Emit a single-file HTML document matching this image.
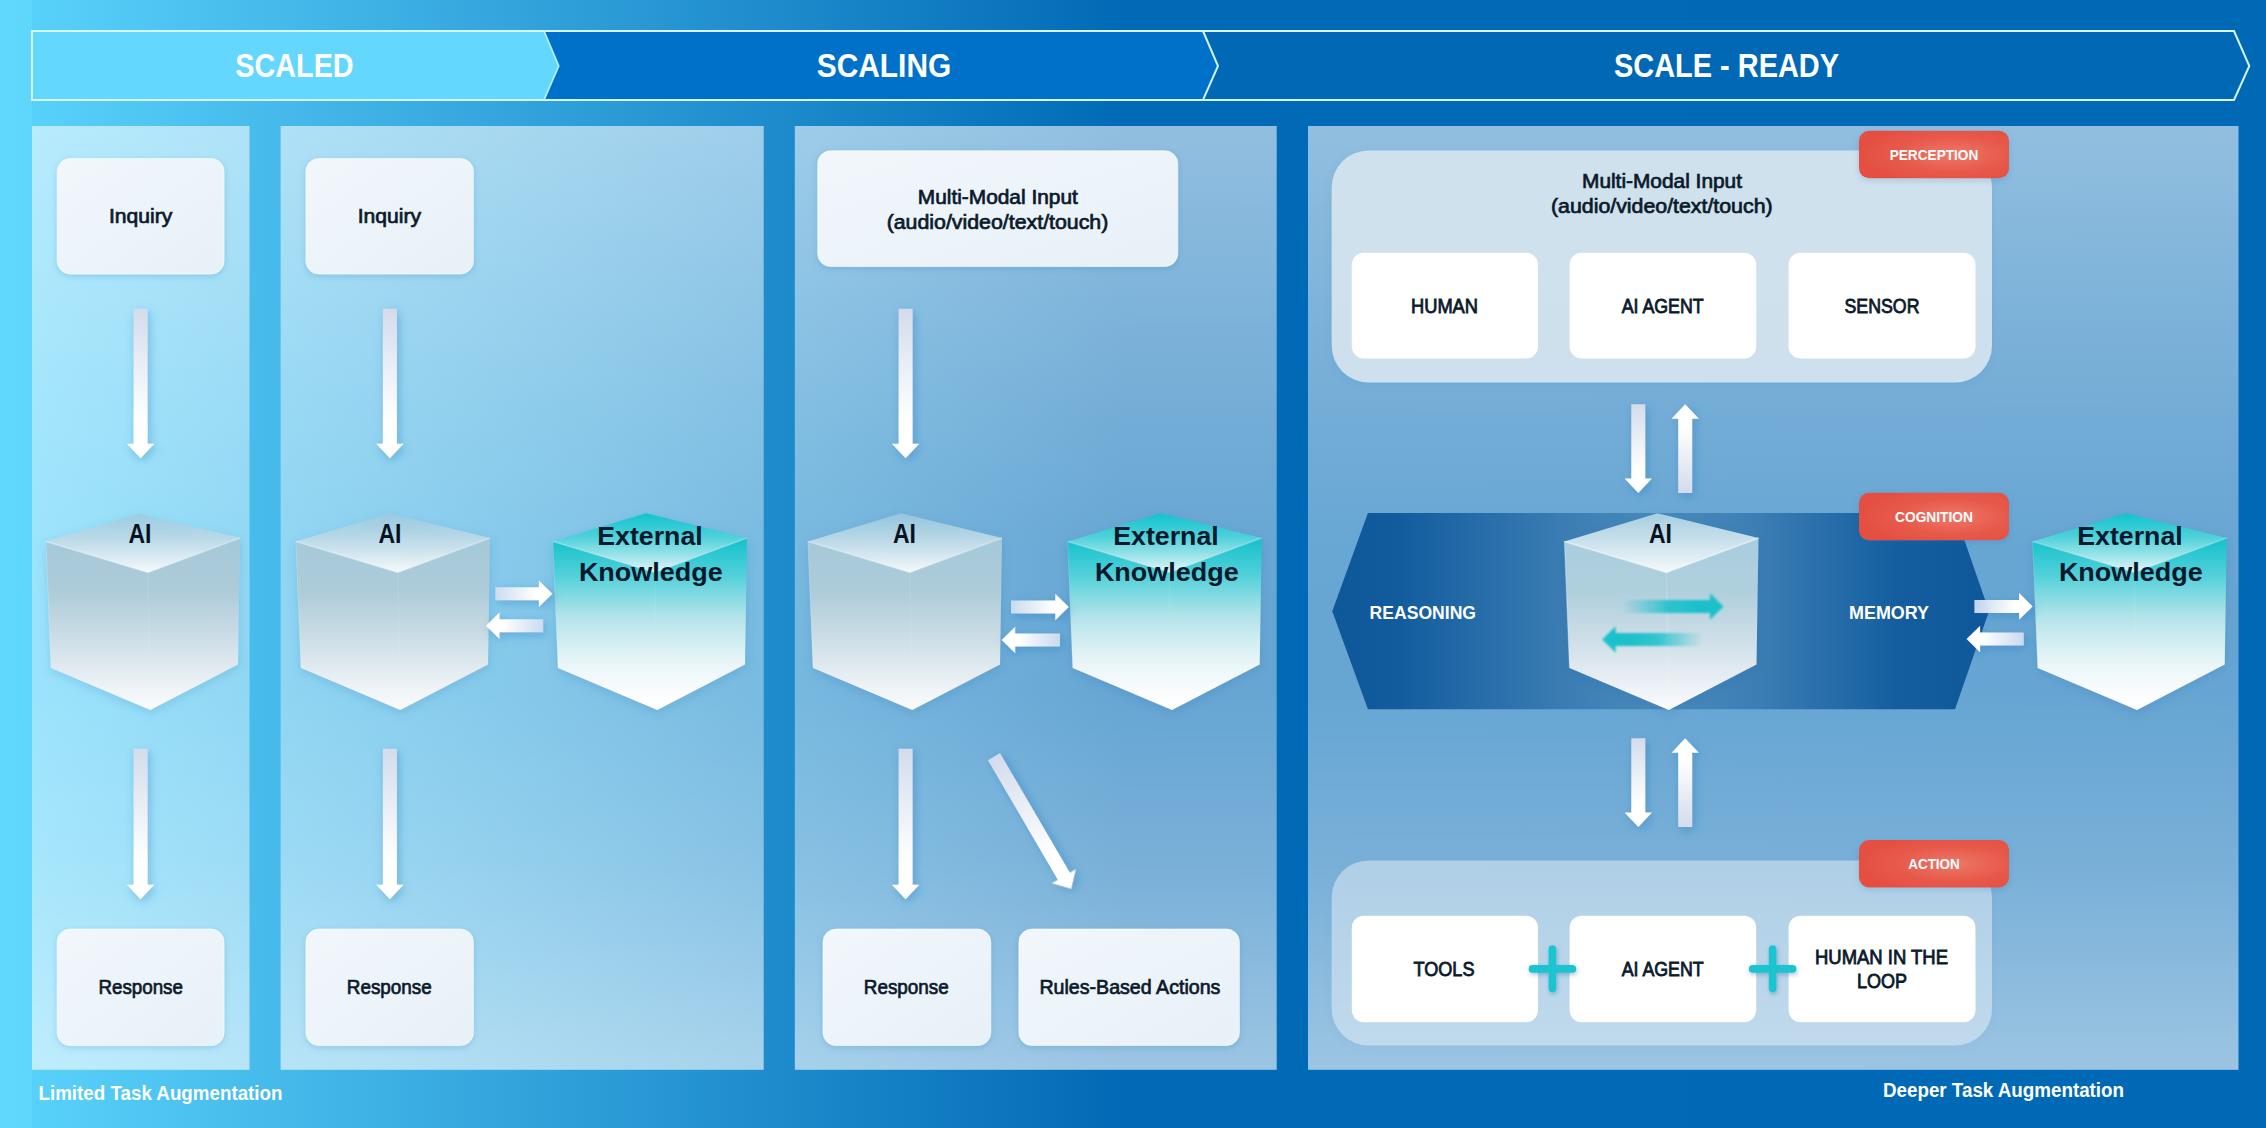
<!DOCTYPE html>
<html><head><meta charset="utf-8"><title>AI Scale Diagram</title>
<style>
html,body{margin:0;padding:0;background:#0069b5;}
body{width:2266px;height:1128px;overflow:hidden;font-family:"Liberation Sans", sans-serif;}
svg{display:block;}
text{font-family:"Liberation Sans", sans-serif;}
</style></head><body>
<svg width="2266" height="1128" viewBox="0 0 2266 1128">
<defs>
<linearGradient id="bg" x1="0" y1="0" x2="1" y2="0">
 <stop offset="0" stop-color="#60d8fe"/>
 <stop offset="0.0141" stop-color="#5fd7fd"/>
 <stop offset="0.0142" stop-color="#58d1fa"/>
 <stop offset="0.25" stop-color="#2f9fd9"/>
 <stop offset="0.495" stop-color="#016ab6"/>
 <stop offset="1" stop-color="#0069b5"/>
</linearGradient>
<linearGradient id="pan" x1="0" y1="0" x2="0" y2="1">
 <stop offset="0" stop-color="#fff" stop-opacity="0.57"/>
 <stop offset="0.29" stop-color="#fff" stop-opacity="0.455"/>
 <stop offset="0.45" stop-color="#fff" stop-opacity="0.405"/>
 <stop offset="0.60" stop-color="#fff" stop-opacity="0.40"/>
 <stop offset="0.78" stop-color="#fff" stop-opacity="0.47"/>
 <stop offset="1" stop-color="#fff" stop-opacity="0.61"/>
</linearGradient>
<linearGradient id="pan1" x1="0" y1="0" x2="1" y2="1">
 <stop offset="0" stop-color="#fff" stop-opacity="0.55"/>
 <stop offset="0.5" stop-color="#fff" stop-opacity="0.44"/>
 <stop offset="1" stop-color="#fff" stop-opacity="0.52"/>
</linearGradient>
<linearGradient id="box" x1="0" y1="0" x2="1" y2="1">
 <stop offset="0" stop-color="#f1f7fb"/>
 <stop offset="1" stop-color="#e8f0f8"/>
</linearGradient>
<linearGradient id="arrD" x1="0" y1="0" x2="0" y2="1">
 <stop offset="0" stop-color="#d3dcec"/>
 <stop offset="0.75" stop-color="#ffffff"/>
 <stop offset="1" stop-color="#ffffff"/>
</linearGradient>
<linearGradient id="arrU" x1="0" y1="1" x2="0" y2="0">
 <stop offset="0" stop-color="#d3dcec"/>
 <stop offset="0.75" stop-color="#ffffff"/>
 <stop offset="1" stop-color="#ffffff"/>
</linearGradient>
<linearGradient id="arrR" x1="0" y1="0" x2="1" y2="0">
 <stop offset="0" stop-color="#d3e0f3" stop-opacity="0.9"/>
 <stop offset="0.7" stop-color="#ffffff"/>
 <stop offset="1" stop-color="#ffffff"/>
</linearGradient>
<linearGradient id="arrL" x1="1" y1="0" x2="0" y2="0">
 <stop offset="0" stop-color="#d3e0f3" stop-opacity="0.9"/>
 <stop offset="0.7" stop-color="#ffffff"/>
 <stop offset="1" stop-color="#ffffff"/>
</linearGradient>
<linearGradient id="tealR" x1="0" y1="0" x2="1" y2="0">
 <stop offset="0" stop-color="#1bc0cb" stop-opacity="0"/>
 <stop offset="0.45" stop-color="#1bc0cb" stop-opacity="0.85"/>
 <stop offset="0.7" stop-color="#1bc0cb" stop-opacity="1"/>
 <stop offset="1" stop-color="#1bc0cb" stop-opacity="1"/>
</linearGradient>
<linearGradient id="tealL" x1="1" y1="0" x2="0" y2="0">
 <stop offset="0" stop-color="#1bc0cb" stop-opacity="0"/>
 <stop offset="0.45" stop-color="#1bc0cb" stop-opacity="0.85"/>
 <stop offset="0.7" stop-color="#1bc0cb" stop-opacity="1"/>
 <stop offset="1" stop-color="#1bc0cb" stop-opacity="1"/>
</linearGradient>
<linearGradient id="aiTop" x1="0" y1="0" x2="0" y2="1">
 <stop offset="0" stop-color="#9ccadf" stop-opacity="0.75"/>
 <stop offset="0.45" stop-color="#bcd9e6" stop-opacity="0.95"/>
 <stop offset="1" stop-color="#f4f8fb"/>
</linearGradient>
<linearGradient id="aiSide" x1="0" y1="0" x2="0" y2="1">
 <stop offset="0" stop-color="#a7cad9"/>
 <stop offset="0.28" stop-color="#afccd9"/>
 <stop offset="0.6" stop-color="#d3e1e9"/>
 <stop offset="0.88" stop-color="#f1f5f8"/>
 <stop offset="1" stop-color="#fbfcfd"/>
</linearGradient>
<linearGradient id="ai4Top" x1="0" y1="0" x2="0" y2="1">
 <stop offset="0" stop-color="#9fc9de"/>
 <stop offset="0.45" stop-color="#c4dde9"/>
 <stop offset="1" stop-color="#f4f8fb"/>
</linearGradient>
<linearGradient id="ai4Side" x1="0" y1="0" x2="0" y2="1">
 <stop offset="0" stop-color="#a9cfe2"/>
 <stop offset="0.3" stop-color="#adcede"/>
 <stop offset="0.6" stop-color="#cfdfe9"/>
 <stop offset="0.88" stop-color="#eef3f7"/>
 <stop offset="1" stop-color="#fbfcfd"/>
</linearGradient>
<linearGradient id="ekTop" x1="0" y1="0" x2="0" y2="1">
 <stop offset="0" stop-color="#12c4cf"/>
 <stop offset="0.4" stop-color="#55d3db"/>
 <stop offset="1" stop-color="#e2f5f7"/>
</linearGradient>
<linearGradient id="ekSide" x1="0" y1="0" x2="0" y2="1">
 <stop offset="0" stop-color="#18c3ce"/>
 <stop offset="0.18" stop-color="#4bcfd8"/>
 <stop offset="0.45" stop-color="#b3e4ea"/>
 <stop offset="0.7" stop-color="#e6f4f7"/>
 <stop offset="0.9" stop-color="#fbfdfe"/>
 <stop offset="1" stop-color="#ffffff"/>
</linearGradient>
<linearGradient id="hex" x1="0" y1="0" x2="1" y2="0">
 <stop offset="0" stop-color="#0e5799"/>
 <stop offset="0.10" stop-color="#125c9e"/>
 <stop offset="0.36" stop-color="#3c7eb4"/>
 <stop offset="0.5" stop-color="#4a8abc"/>
 <stop offset="0.64" stop-color="#3d7fb5"/>
 <stop offset="0.86" stop-color="#145e9f"/>
 <stop offset="1" stop-color="#0e5799"/>
</linearGradient>
<radialGradient id="badge" cx="0.62" cy="0.5" r="0.6">
 <stop offset="0" stop-color="#ee7869"/>
 <stop offset="0.6" stop-color="#e75a4b"/>
 <stop offset="1" stop-color="#e45042"/>
</radialGradient>
<filter id="shA" x="-100%" y="-20%" width="300%" height="140%">
 <feDropShadow dx="2" dy="3" stdDeviation="5" flood-color="#1f6fb8" flood-opacity="0.35"/>
</filter>
<filter id="shH" x="-20%" y="-100%" width="140%" height="300%">
 <feDropShadow dx="2" dy="3" stdDeviation="5" flood-color="#1f6fb8" flood-opacity="0.35"/>
</filter>
<filter id="shB" x="-10%" y="-10%" width="120%" height="125%">
 <feDropShadow dx="0" dy="2" stdDeviation="3" flood-color="#2a6fae" flood-opacity="0.22"/>
</filter>
<filter id="shC" x="-10%" y="-10%" width="120%" height="125%">
 <feDropShadow dx="0" dy="3" stdDeviation="5" flood-color="#1a5c9c" flood-opacity="0.18"/>
</filter>
<filter id="shD" x="-10%" y="-10%" width="120%" height="125%">
 <feDropShadow dx="0" dy="2" stdDeviation="4" flood-color="#1a5c9c" flood-opacity="0.10"/>
</filter>
<filter id="blur1" x="-20%" y="-50%" width="140%" height="200%">
 <feGaussianBlur stdDeviation="1.2"/>
</filter>
<filter id="shP" x="-30%" y="-30%" width="160%" height="160%">
 <feDropShadow dx="1" dy="2" stdDeviation="2" flood-color="#1a5c9c" flood-opacity="0.35"/>
</filter>
</defs>

<rect x="0" y="0" width="2266" height="1128" fill="url(#bg)"/>
<g>
<path d="M32,31 L544,31 L558.7,66 L544,99.9 L32,99.9 Z" fill="#63d7fd"/>
<path d="M544,31 L1203,31 L1218,66 L1203,99.9 L544,99.9 L558.7,66 Z" fill="#0071c9"/>
<path d="M1203,31 L2234,31 L2249.3,66 L2234,99.9 L1203,99.9 L1218,66 Z" fill="#0068b5"/>
<path d="M32,31 L2234,31 L2249.3,66 L2234,99.9 L32,99.9 Z" fill="none" stroke="#d6f5ff" stroke-width="2"/>
<path d="M544,31 L558.7,66 L544,99.9" fill="none" stroke="#b4efff" stroke-width="1.8"/>
<path d="M1203,31 L1218,66 L1203,99.9" fill="none" stroke="#d2f4ff" stroke-width="2"/>
</g>
<text x="294.5" y="77.4" font-size="33" font-weight="bold" fill="#fff" text-anchor="middle" textLength="118.3" lengthAdjust="spacingAndGlyphs">SCALED</text>
<text x="884" y="77.4" font-size="33" font-weight="bold" fill="#fff" text-anchor="middle" textLength="134.5" lengthAdjust="spacingAndGlyphs">SCALING</text>
<text x="1726.5" y="77.4" font-size="33" font-weight="bold" fill="#fff" text-anchor="middle" textLength="225" lengthAdjust="spacingAndGlyphs">SCALE - READY</text>
<rect x="32" y="126" width="217.5" height="943.8" fill="url(#pan)"/>
<rect x="280.6" y="126" width="483.1" height="943.8" fill="url(#pan)"/>
<rect x="794.8" y="126" width="481.9000000000001" height="943.8" fill="url(#pan)"/>
<rect x="1308" y="126" width="930.5" height="943.8" fill="url(#pan)"/>
<rect x="57.2" y="158.5" width="166.8" height="115.5" rx="13" fill="url(#box)" stroke="#ffffff" stroke-opacity="0.55" stroke-width="1" filter="url(#shB)"/>
<text x="140.6" y="223.4" font-size="20" font-weight="normal" fill="#0b1a2b" text-anchor="middle" textLength="63.3" lengthAdjust="spacingAndGlyphs" stroke="#0b1a2b" stroke-width="0.7">Inquiry</text>
<rect x="305.9" y="158.5" width="167.5" height="115.5" rx="13" fill="url(#box)" stroke="#ffffff" stroke-opacity="0.55" stroke-width="1" filter="url(#shB)"/>
<text x="389.4" y="223.4" font-size="20" font-weight="normal" fill="#0b1a2b" text-anchor="middle" textLength="63.3" lengthAdjust="spacingAndGlyphs" stroke="#0b1a2b" stroke-width="0.7">Inquiry</text>
<rect x="817.7" y="150.7" width="360.0999999999999" height="115.80000000000001" rx="13" fill="url(#box)" stroke="#ffffff" stroke-opacity="0.55" stroke-width="1" filter="url(#shB)"/>
<text x="997.8" y="203.7" font-size="20" font-weight="normal" fill="#0b1a2b" text-anchor="middle" textLength="160" lengthAdjust="spacingAndGlyphs" stroke="#0b1a2b" stroke-width="0.7">Multi-Modal Input</text>
<text x="997.5" y="228.8" font-size="20" font-weight="normal" fill="#0b1a2b" text-anchor="middle" textLength="221.7" lengthAdjust="spacingAndGlyphs" stroke="#0b1a2b" stroke-width="0.7">(audio/video/text/touch)</text>
<rect x="57.2" y="929" width="166.8" height="116.5" rx="13" fill="url(#box)" stroke="#ffffff" stroke-opacity="0.55" stroke-width="1" filter="url(#shB)"/>
<text x="140.7" y="994" font-size="20" font-weight="normal" fill="#0b1a2b" text-anchor="middle" textLength="84.5" lengthAdjust="spacingAndGlyphs" stroke="#0b1a2b" stroke-width="0.7">Response</text>
<rect x="305.9" y="929" width="167.5" height="116.5" rx="13" fill="url(#box)" stroke="#ffffff" stroke-opacity="0.55" stroke-width="1" filter="url(#shB)"/>
<text x="389.3" y="994" font-size="20" font-weight="normal" fill="#0b1a2b" text-anchor="middle" textLength="85" lengthAdjust="spacingAndGlyphs" stroke="#0b1a2b" stroke-width="0.7">Response</text>
<rect x="823" y="929" width="167.79999999999995" height="116.5" rx="13" fill="url(#box)" stroke="#ffffff" stroke-opacity="0.55" stroke-width="1" filter="url(#shB)"/>
<text x="906.3" y="994" font-size="20" font-weight="normal" fill="#0b1a2b" text-anchor="middle" textLength="85" lengthAdjust="spacingAndGlyphs" stroke="#0b1a2b" stroke-width="0.7">Response</text>
<rect x="1018.9" y="929" width="220.5000000000001" height="116.5" rx="13" fill="url(#box)" stroke="#ffffff" stroke-opacity="0.55" stroke-width="1" filter="url(#shB)"/>
<text x="1129.9" y="994" font-size="20" font-weight="normal" fill="#0b1a2b" text-anchor="middle" textLength="181" lengthAdjust="spacingAndGlyphs" stroke="#0b1a2b" stroke-width="0.7">Rules-Based Actions</text>
<path d="M133.6,308.7 L147.6,308.7 L147.6,443.8 L154.29999999999998,443.8 L140.6,458.3 L126.89999999999999,443.8 L133.6,443.8 Z" fill="url(#arrD)" filter="url(#shA)"/>
<path d="M133.6,748.7 L147.6,748.7 L147.6,884.8 L154.29999999999998,884.8 L140.6,899.3 L126.89999999999999,884.8 L133.6,884.8 Z" fill="url(#arrD)" filter="url(#shA)"/>
<path d="M382.9,308.7 L396.9,308.7 L396.9,443.8 L403.59999999999997,443.8 L389.9,458.3 L376.2,443.8 L382.9,443.8 Z" fill="url(#arrD)" filter="url(#shA)"/>
<path d="M382.9,748.7 L396.9,748.7 L396.9,884.8 L403.59999999999997,884.8 L389.9,899.3 L376.2,884.8 L382.9,884.8 Z" fill="url(#arrD)" filter="url(#shA)"/>
<path d="M898.6,308.7 L912.6,308.7 L912.6,443.8 L919.3000000000001,443.8 L905.6,458.3 L891.9,443.8 L898.6,443.8 Z" fill="url(#arrD)" filter="url(#shA)"/>
<path d="M898.6,748.7 L912.6,748.7 L912.6,884.8 L919.3000000000001,884.8 L905.6,899.3 L891.9,884.8 L898.6,884.8 Z" fill="url(#arrD)" filter="url(#shA)"/>
<g transform="translate(994,756.7) rotate(-30.3)"><path d="M-7.0,0 L7.0,0 L7.0,138.5 L13.7,138.5 L0,153 L-13.7,138.5 L-7.0,138.5 Z" fill="url(#arrD)" filter="url(#shA)"/></g>
<path d="M1631.3,404.2 L1645.3,404.2 L1645.3,478.4 L1652.0,478.4 L1638.3,492.9 L1624.6,478.4 L1631.3,478.4 Z" fill="url(#arrD)" filter="url(#shA)"/>
<path d="M1678.2,492.9 L1692.2,492.9 L1692.2,418.7 L1698.9,418.7 L1685.2,404.2 L1671.5,418.7 L1678.2,418.7 Z" fill="url(#arrU)" filter="url(#shA)"/>
<path d="M1631.3,738.2 L1645.3,738.2 L1645.3,812.4 L1652.0,812.4 L1638.3,826.9 L1624.6,812.4 L1631.3,812.4 Z" fill="url(#arrD)" filter="url(#shA)"/>
<path d="M1678.2,826.9 L1692.2,826.9 L1692.2,752.7 L1698.9,752.7 L1685.2,738.2 L1671.5,752.7 L1678.2,752.7 Z" fill="url(#arrU)" filter="url(#shA)"/>
<path d="M1332.3,611.2 L1367.9,513 L1955,513 L1989,611.2 L1955,709.2 L1367.9,709.2 Z" fill="url(#hex)"/>
<text x="1422.8" y="618.7" font-size="19" font-weight="bold" fill="#fff" text-anchor="middle" textLength="106.4" lengthAdjust="spacingAndGlyphs">REASONING</text>
<text x="1889" y="618.7" font-size="19" font-weight="bold" fill="#fff" text-anchor="middle" textLength="80" lengthAdjust="spacingAndGlyphs">MEMORY</text>
<defs>
<linearGradient id="aiTopU0" gradientUnits="userSpaceOnUse" x1="0" y1="513" x2="0" y2="573"><stop offset="0" stop-color="#9ccadf" stop-opacity="0.8"/><stop offset="0.45" stop-color="#bfdbe8" stop-opacity="0.95"/><stop offset="1" stop-color="#f6f9fb" stop-opacity="1"/></linearGradient>
<linearGradient id="ai4TopU0" gradientUnits="userSpaceOnUse" x1="0" y1="513" x2="0" y2="573"><stop offset="0" stop-color="#a6cee0" stop-opacity="1"/><stop offset="0.45" stop-color="#c8e0eb" stop-opacity="1"/><stop offset="1" stop-color="#f6f9fb" stop-opacity="1"/></linearGradient>
<linearGradient id="ekTopU0" gradientUnits="userSpaceOnUse" x1="0" y1="513" x2="0" y2="573"><stop offset="0" stop-color="#10c3ce" stop-opacity="1"/><stop offset="0.4" stop-color="#4fd1da" stop-opacity="1"/><stop offset="1" stop-color="#e4f6f8" stop-opacity="1"/></linearGradient>
<linearGradient id="aiSideU0" gradientUnits="userSpaceOnUse" x1="0" y1="540" x2="0" y2="710"><stop offset="0" stop-color="#a5c9d9" stop-opacity="1"/><stop offset="0.3" stop-color="#adcbd9" stop-opacity="1"/><stop offset="0.6" stop-color="#cfdfe7" stop-opacity="1"/><stop offset="0.88" stop-color="#eff4f7" stop-opacity="1"/><stop offset="1" stop-color="#fbfcfd" stop-opacity="1"/></linearGradient>
<linearGradient id="ai4SideU0" gradientUnits="userSpaceOnUse" x1="0" y1="540" x2="0" y2="710"><stop offset="0" stop-color="#a9cedf" stop-opacity="1"/><stop offset="0.3" stop-color="#afcfdd" stop-opacity="1"/><stop offset="0.6" stop-color="#cfdfe8" stop-opacity="1"/><stop offset="0.88" stop-color="#eef3f7" stop-opacity="1"/><stop offset="1" stop-color="#fbfcfd" stop-opacity="1"/></linearGradient>
<linearGradient id="ekSideU0" gradientUnits="userSpaceOnUse" x1="0" y1="540" x2="0" y2="710"><stop offset="0" stop-color="#16c2cd" stop-opacity="1"/><stop offset="0.2" stop-color="#4fd0d9" stop-opacity="1"/><stop offset="0.45" stop-color="#b3e4ea" stop-opacity="1"/><stop offset="0.7" stop-color="#e6f4f7" stop-opacity="1"/><stop offset="0.9" stop-color="#fbfdfe" stop-opacity="1"/><stop offset="1" stop-color="#ffffff" stop-opacity="1"/></linearGradient>
</defs>
<g filter="url(#shC)">
<polygon points="45.9,541.5 147.9,572.4 240.0,537.9 238.0,664.5 150.3,710.0 51.0,668.0" fill="url(#aiSideU0)"/>
<polygon points="139.0,513.3 240.0,537.9 147.9,572.4 45.9,541.5" fill="url(#aiTopU0)"/>
</g>
<polyline points="45.9,541.5 147.9,572.4 240.0,537.9" fill="none" stroke="#ffffff" stroke-opacity="0.35" stroke-width="1.6"/>
<line x1="147.9" y1="572.4" x2="150.3" y2="710.0" stroke="#ffffff" stroke-opacity="0.0875" stroke-width="1.5"/>
<polyline points="51.0,668.0 45.9,541.5" fill="none" stroke="#ffffff" stroke-opacity="0.175" stroke-width="1.2"/>
<g filter="url(#shC)">
<polygon points="295.9,541.5 397.9,572.4 490.0,537.9 488.0,664.5 400.3,710.0 301.0,668.0" fill="url(#aiSideU0)"/>
<polygon points="389.0,513.3 490.0,537.9 397.9,572.4 295.9,541.5" fill="url(#aiTopU0)"/>
</g>
<polyline points="295.9,541.5 397.9,572.4 490.0,537.9" fill="none" stroke="#ffffff" stroke-opacity="0.35" stroke-width="1.6"/>
<line x1="397.9" y1="572.4" x2="400.3" y2="710.0" stroke="#ffffff" stroke-opacity="0.0875" stroke-width="1.5"/>
<polyline points="301.0,668.0 295.9,541.5" fill="none" stroke="#ffffff" stroke-opacity="0.175" stroke-width="1.2"/>
<g filter="url(#shC)">
<polygon points="552.9,541.5 654.9,572.4 747.0,537.9 745.0,664.5 657.3,710.0 558.0,668.0" fill="url(#ekSideU0)"/>
<polygon points="646.0,513.3 747.0,537.9 654.9,572.4 552.9,541.5" fill="url(#ekTopU0)"/>
</g>
<polyline points="552.9,541.5 654.9,572.4 747.0,537.9" fill="none" stroke="#ffffff" stroke-opacity="0.25" stroke-width="1.6"/>
<line x1="654.9" y1="572.4" x2="657.3" y2="710.0" stroke="#ffffff" stroke-opacity="0.0625" stroke-width="1.5"/>
<polyline points="558.0,668.0 552.9,541.5" fill="none" stroke="#ffffff" stroke-opacity="0.125" stroke-width="1.2"/>
<g filter="url(#shC)">
<polygon points="807.9,541.5 909.9,572.4 1002.0,537.9 1000.0,664.5 912.3,710.0 813.0,668.0" fill="url(#aiSideU0)"/>
<polygon points="901.0,513.3 1002.0,537.9 909.9,572.4 807.9,541.5" fill="url(#aiTopU0)"/>
</g>
<polyline points="807.9,541.5 909.9,572.4 1002.0,537.9" fill="none" stroke="#ffffff" stroke-opacity="0.35" stroke-width="1.6"/>
<line x1="909.9" y1="572.4" x2="912.3" y2="710.0" stroke="#ffffff" stroke-opacity="0.0875" stroke-width="1.5"/>
<polyline points="813.0,668.0 807.9,541.5" fill="none" stroke="#ffffff" stroke-opacity="0.175" stroke-width="1.2"/>
<g filter="url(#shC)">
<polygon points="1067.6,541.5 1169.6,572.4 1261.7,537.9 1259.7,664.5 1172.0,710.0 1072.7,668.0" fill="url(#ekSideU0)"/>
<polygon points="1160.7,513.3 1261.7,537.9 1169.6,572.4 1067.6,541.5" fill="url(#ekTopU0)"/>
</g>
<polyline points="1067.6,541.5 1169.6,572.4 1261.7,537.9" fill="none" stroke="#ffffff" stroke-opacity="0.25" stroke-width="1.6"/>
<line x1="1169.6" y1="572.4" x2="1172.0" y2="710.0" stroke="#ffffff" stroke-opacity="0.0625" stroke-width="1.5"/>
<polyline points="1072.7,668.0 1067.6,541.5" fill="none" stroke="#ffffff" stroke-opacity="0.125" stroke-width="1.2"/>
<g filter="url(#shC)">
<polygon points="1564.4,541.5 1666.4,572.4 1758.5,537.9 1756.5,664.5 1668.8,710.0 1569.5,668.0" fill="url(#ai4SideU0)"/>
<polygon points="1657.5,513.3 1758.5,537.9 1666.4,572.4 1564.4,541.5" fill="url(#ai4TopU0)"/>
</g>
<polyline points="1564.4,541.5 1666.4,572.4 1758.5,537.9" fill="none" stroke="#ffffff" stroke-opacity="0.6" stroke-width="1.6"/>
<line x1="1666.4" y1="572.4" x2="1668.8" y2="710.0" stroke="#ffffff" stroke-opacity="0.15" stroke-width="1.5"/>
<polyline points="1569.5,668.0 1564.4,541.5" fill="none" stroke="#ffffff" stroke-opacity="0.3" stroke-width="1.2"/>
<g filter="url(#shC)">
<polygon points="2032.6,541.5 2134.6,572.4 2226.7,537.9 2224.7,664.5 2137.0,710.0 2037.7,668.0" fill="url(#ekSideU0)"/>
<polygon points="2125.7,513.3 2226.7,537.9 2134.6,572.4 2032.6,541.5" fill="url(#ekTopU0)"/>
</g>
<polyline points="2032.6,541.5 2134.6,572.4 2226.7,537.9" fill="none" stroke="#ffffff" stroke-opacity="0.25" stroke-width="1.6"/>
<line x1="2134.6" y1="572.4" x2="2137.0" y2="710.0" stroke="#ffffff" stroke-opacity="0.0625" stroke-width="1.5"/>
<polyline points="2037.7,668.0 2032.6,541.5" fill="none" stroke="#ffffff" stroke-opacity="0.125" stroke-width="1.2"/>
<text x="140" y="542.8" font-size="27" font-weight="bold" fill="#07121f" text-anchor="middle" textLength="23" lengthAdjust="spacingAndGlyphs">AI</text>
<text x="390" y="542.8" font-size="27" font-weight="bold" fill="#07121f" text-anchor="middle" textLength="23" lengthAdjust="spacingAndGlyphs">AI</text>
<text x="904.5" y="542.8" font-size="27" font-weight="bold" fill="#07121f" text-anchor="middle" textLength="23" lengthAdjust="spacingAndGlyphs">AI</text>
<text x="1660.5" y="542.8" font-size="27" font-weight="bold" fill="#07121f" text-anchor="middle" textLength="23" lengthAdjust="spacingAndGlyphs">AI</text>
<text x="650" y="545.3" font-size="25.5" font-weight="bold" fill="#06182c" text-anchor="middle" textLength="105.4" lengthAdjust="spacingAndGlyphs">External</text>
<text x="650.8" y="580.6" font-size="25.5" font-weight="bold" fill="#06182c" text-anchor="middle" textLength="143.8" lengthAdjust="spacingAndGlyphs">Knowledge</text>
<text x="1166" y="545.3" font-size="25.5" font-weight="bold" fill="#06182c" text-anchor="middle" textLength="105.4" lengthAdjust="spacingAndGlyphs">External</text>
<text x="1166.8" y="580.6" font-size="25.5" font-weight="bold" fill="#06182c" text-anchor="middle" textLength="143.8" lengthAdjust="spacingAndGlyphs">Knowledge</text>
<text x="2130" y="545.3" font-size="25.5" font-weight="bold" fill="#06182c" text-anchor="middle" textLength="105.4" lengthAdjust="spacingAndGlyphs">External</text>
<text x="2130.8" y="580.6" font-size="25.5" font-weight="bold" fill="#06182c" text-anchor="middle" textLength="143.8" lengthAdjust="spacingAndGlyphs">Knowledge</text>
<path d="M495.3,587.2 L538.9,587.2 L538.9,580.4000000000001 L552.4,593.7 L538.9,607.0 L538.9,600.2 L495.3,600.2 Z" fill="url(#arrR)" filter="url(#shH)"/>
<path d="M543.2,619.2 L499.5,619.2 L499.5,612.4000000000001 L486,625.7 L499.5,639.0 L499.5,632.2 L543.2,632.2 Z" fill="url(#arrL)" filter="url(#shH)"/>
<path d="M1011,600.5 L1055.3,600.5 L1055.3,593.7 L1068.8,607 L1055.3,620.3 L1055.3,613.5 L1011,613.5 Z" fill="url(#arrR)" filter="url(#shH)"/>
<path d="M1060,633.5 L1015.2,633.5 L1015.2,626.7 L1001.7,640 L1015.2,653.3 L1015.2,646.5 L1060,646.5 Z" fill="url(#arrL)" filter="url(#shH)"/>
<path d="M1974.4,599.9 L2019.1,599.9 L2019.1,593.1 L2032.6,606.4 L2019.1,619.6999999999999 L2019.1,612.9 L1974.4,612.9 Z" fill="url(#arrR)" filter="url(#shH)"/>
<path d="M2023.8,632.5 L1980.1,632.5 L1980.1,625.7 L1966.6,639 L1980.1,652.3 L1980.1,645.5 L2023.8,645.5 Z" fill="url(#arrL)" filter="url(#shH)"/>
<g filter="url(#blur1)">
<path d="M1622,600.0 L1710.0,600.0 L1710.0,593.2 L1723.5,606.5 L1710.0,619.8 L1710.0,613.0 L1622,613.0 Z" fill="url(#tealR)"/>
<path d="M1703,633.0 L1615.7,633.0 L1615.7,626.2 L1602.2,639.5 L1615.7,652.8 L1615.7,646.0 L1703,646.0 Z" fill="url(#tealL)"/>
</g>
<rect x="1331.7" y="150.5" width="660.3" height="232" rx="37" fill="#d0e1ee" fill-opacity="0.98" filter="url(#shD)"/>
<text x="1662" y="188" font-size="20" font-weight="normal" fill="#0b1a2b" text-anchor="middle" textLength="160" lengthAdjust="spacingAndGlyphs" stroke="#0b1a2b" stroke-width="0.7">Multi-Modal Input</text>
<text x="1661.8" y="212.7" font-size="20" font-weight="normal" fill="#0b1a2b" text-anchor="middle" textLength="221.6" lengthAdjust="spacingAndGlyphs" stroke="#0b1a2b" stroke-width="0.7">(audio/video/text/touch)</text>
<rect x="1351.8" y="252.8" width="186.20000000000005" height="105.69999999999999" rx="12" fill="#ffffff"/>
<rect x="1569.6" y="252.8" width="186.60000000000014" height="105.69999999999999" rx="12" fill="#ffffff"/>
<rect x="1788.6" y="252.8" width="186.9000000000001" height="105.69999999999999" rx="12" fill="#ffffff"/>
<text x="1444.5" y="313" font-size="19.5" font-weight="normal" fill="#0b1a2b" text-anchor="middle" textLength="67" lengthAdjust="spacingAndGlyphs" stroke="#0b1a2b" stroke-width="0.8">HUMAN</text>
<text x="1662.7" y="313" font-size="19.5" font-weight="normal" fill="#0b1a2b" text-anchor="middle" textLength="82" lengthAdjust="spacingAndGlyphs" stroke="#0b1a2b" stroke-width="0.8">AI AGENT</text>
<text x="1882" y="313" font-size="19.5" font-weight="normal" fill="#0b1a2b" text-anchor="middle" textLength="75" lengthAdjust="spacingAndGlyphs" stroke="#0b1a2b" stroke-width="0.8">SENSOR</text>
<rect x="1331.7" y="860.5" width="660.3" height="185" rx="37" fill="#ffffff" fill-opacity="0.40" filter="url(#shD)"/>
<rect x="1351.8" y="915.8" width="186.20000000000005" height="106.5" rx="12" fill="#ffffff"/>
<rect x="1569.6" y="915.8" width="186.60000000000014" height="106.5" rx="12" fill="#ffffff"/>
<rect x="1788.6" y="915.8" width="186.9000000000001" height="106.5" rx="12" fill="#ffffff"/>
<text x="1444" y="976" font-size="19.5" font-weight="normal" fill="#0b1a2b" text-anchor="middle" textLength="61" lengthAdjust="spacingAndGlyphs" stroke="#0b1a2b" stroke-width="0.8">TOOLS</text>
<text x="1662.7" y="976" font-size="19.5" font-weight="normal" fill="#0b1a2b" text-anchor="middle" textLength="82" lengthAdjust="spacingAndGlyphs" stroke="#0b1a2b" stroke-width="0.8">AI AGENT</text>
<text x="1881.5" y="963.6" font-size="19.5" font-weight="normal" fill="#0b1a2b" text-anchor="middle" textLength="133" lengthAdjust="spacingAndGlyphs" stroke="#0b1a2b" stroke-width="0.8">HUMAN IN THE</text>
<text x="1882" y="988.4" font-size="19.5" font-weight="normal" fill="#0b1a2b" text-anchor="middle" textLength="50" lengthAdjust="spacingAndGlyphs" stroke="#0b1a2b" stroke-width="0.8">LOOP</text>
<g filter="url(#shP)" stroke="#1ec4cf" stroke-width="7.6" stroke-linecap="round"><line x1="1532.4" y1="968.9" x2="1572.4" y2="968.9"/><line x1="1552.4" y1="949" x2="1552.4" y2="988.6"/></g>
<g filter="url(#shP)" stroke="#1ec4cf" stroke-width="7.6" stroke-linecap="round"><line x1="1752.6" y1="968.9" x2="1792.6" y2="968.9"/><line x1="1772.6" y1="949" x2="1772.6" y2="988.6"/></g>
<rect x="1859" y="130.8" width="150" height="47.5" rx="10" fill="url(#badge)" filter="url(#shB)"/>
<text x="1934" y="160.10000000000002" font-size="15" font-weight="bold" fill="#fff" text-anchor="middle" textLength="88.6" lengthAdjust="spacingAndGlyphs">PERCEPTION</text>
<rect x="1859" y="492.8" width="150" height="47.5" rx="10" fill="url(#badge)" filter="url(#shB)"/>
<text x="1934" y="522.1" font-size="15" font-weight="bold" fill="#fff" text-anchor="middle" textLength="78" lengthAdjust="spacingAndGlyphs">COGNITION</text>
<rect x="1859" y="840" width="150" height="47.5" rx="10" fill="url(#badge)" filter="url(#shB)"/>
<text x="1934" y="869.3" font-size="15" font-weight="bold" fill="#fff" text-anchor="middle" textLength="51.6" lengthAdjust="spacingAndGlyphs">ACTION</text>
<text x="160.5" y="1099.5" font-size="19.5" font-weight="bold" fill="#ffffff" text-anchor="middle" textLength="244" lengthAdjust="spacingAndGlyphs">Limited Task Augmentation</text>
<text x="2003.5" y="1097" font-size="19.5" font-weight="bold" fill="#ffffff" text-anchor="middle" textLength="241" lengthAdjust="spacingAndGlyphs">Deeper Task Augmentation</text>
</svg></body></html>
